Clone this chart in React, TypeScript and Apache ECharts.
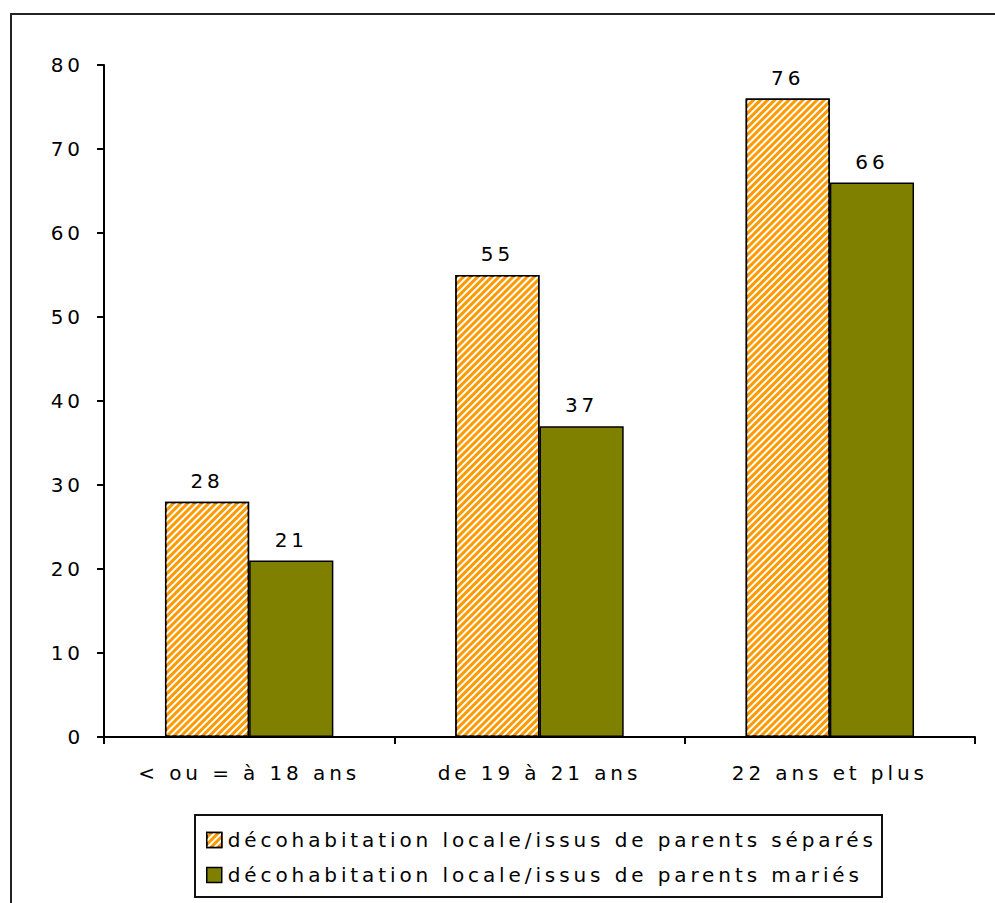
import React, { useEffect, useRef } from "react";
import * as echarts from "echarts";

const categories = ["< ou = à 18 ans", "de 19 à 21 ans", "22 ans et plus"];
const seriesNames = [
  "décohabitation locale/issus de parents séparés",
  "décohabitation locale/issus de parents mariés",
];
const separes = [28, 55, 76];
const maries = [21, 37, 66];
const yTicks = { min: 0, max: 80, interval: 10 };

const FONT = "'DejaVu Sans', Verdana, sans-serif";
const FONT_SIZE = 20;

export default function App() {
  const ref = useRef<HTMLDivElement>(null);

  useEffect(() => {
    if (!ref.current) return;
    const chart = echarts.init(ref.current, null, { renderer: "svg" });
    const labelStyle = {
      show: true,
      position: "top" as const,
      distance: 11,
      color: "#000",
      fontFamily: FONT,
      fontSize: FONT_SIZE,
    };
    chart.setOption({
      animation: false,
      backgroundColor: "#fff",
      graphic: [
        {
          type: "rect",
          shape: { x: 11, y: 14, width: 1000, height: 920 },
          style: { fill: "none", stroke: "#222", lineWidth: 2 },
          z: -1,
        },
        {
          // legend frame
          type: "rect",
          shape: { x: 195, y: 815, width: 687, height: 82 },
          style: { fill: "#fff", stroke: "#111", lineWidth: 2 },
          z: -1,
        },
      ],
      grid: { left: 104, right: 20, top: 65, bottom: 166 },
      legend: {
        orient: "vertical",
        left: 206,
        top: 830,
        padding: 0,
        borderWidth: 0,
        itemWidth: 15,
        itemHeight: 15,
        itemGap: 15,
        icon: "rect",
        itemStyle: { borderColor: "#000", borderWidth: 1.5 },
        textStyle: {
          fontFamily: FONT,
          fontSize: FONT_SIZE,
          lineHeight: 16,
          color: "#000",
          padding: [0, 0, 0, 1],
        },
        data: seriesNames,
      },
      xAxis: {
        type: "category",
        data: categories,
        axisLine: { lineStyle: { color: "#000", width: 2 } },
        axisTick: { show: true, length: 7, lineStyle: { color: "#000", width: 2 } },
        axisLabel: { color: "#000", fontFamily: FONT, fontSize: FONT_SIZE, margin: 26 },
      },
      yAxis: {
        type: "value",
        min: yTicks.min,
        max: yTicks.max,
        interval: yTicks.interval,
        splitLine: { show: false },
        axisLine: { show: true, lineStyle: { color: "#000", width: 2 } },
        axisTick: { show: true, length: 7, lineStyle: { color: "#000", width: 2 } },
        axisLabel: { color: "#000", fontFamily: FONT, fontSize: FONT_SIZE, margin: 20 },
      },
      series: [
        {
          name: seriesNames[0],
          type: "bar",
          data: separes,
          barGap: "0%",
          barCategoryGap: "42%",
          itemStyle: {
            color: "#ff9900",
            borderColor: "#000",
            borderWidth: 1.5,
            decal: {
              symbol: "rect",
              color: "#ffffff",
              dashArrayX: [1, 0],
              dashArrayY: [1.6, 2.4],
              rotation: -Math.PI / 4,
              symbolSize: 1,
            },
          },
          label: labelStyle,
        },
        {
          name: seriesNames[1],
          type: "bar",
          data: maries,
          itemStyle: { color: "#808000", borderColor: "#000", borderWidth: 1.5 },
          label: labelStyle,
        },
      ],
    });
    return () => chart.dispose();
  }, []);

  return (
    <>
      <style>{`.chart-root svg text { letter-spacing: 3.9px; }`}</style>
      <div
        ref={ref}
        className="chart-root"
        style={{ position: "fixed", left: 0, top: 0, width: 995, height: 903 }}
      />
    </>
  );
}
